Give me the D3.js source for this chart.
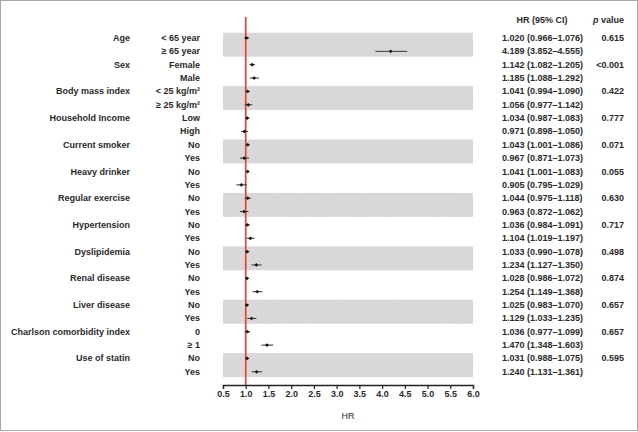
<!DOCTYPE html>
<html><head><meta charset="utf-8">
<script src="https://cdn.jsdelivr.net/npm/d3@7"></script>
<style>
html,body{margin:0;padding:0;background:#fff;}
svg{display:block;}
text{font-family:"Liberation Sans",Arial,sans-serif;font-weight:bold;fill:#2a2a2a;}
</style></head>
<body>
<svg id="c" width="638" height="432"></svg>
<script>
const groups = ["Age","Sex","Body mass index","Household Income","Current smoker","Heavy drinker","Regular exercise","Hypertension","Dyslipidemia","Renal disease","Liver disease","Charlson comorbidity index","Use of statin"];
const subgroups = ["< 65 year","≥ 65 year","Female","Male","< 25 kg/m²","≥ 25 kg/m²","Low","High","No","Yes","No","Yes","No","Yes","No","Yes","No","Yes","No","Yes","No","Yes","0","≥ 1","No","Yes"];
const hr = [1.020,4.189,1.142,1.185,1.041,1.056,1.034,0.971,1.043,0.967,1.041,0.905,1.044,0.963,1.036,1.104,1.033,1.234,1.028,1.254,1.025,1.129,1.036,1.470,1.031,1.240];
const lo = [0.966,3.852,1.082,1.088,0.994,0.977,0.987,0.898,1.001,0.871,1.001,0.795,0.975,0.872,0.984,1.019,0.990,1.127,0.986,1.149,0.983,1.033,0.977,1.348,0.988,1.131];
const hi = [1.076,4.555,1.205,1.292,1.090,1.142,1.083,1.050,1.086,1.073,1.083,1.029,1.118,1.062,1.091,1.197,1.078,1.350,1.072,1.368,1.070,1.235,1.099,1.603,1.075,1.361];
const pvalues = ["0.615","<0.001","0.422","0.777","0.071","0.055","0.630","0.717","0.498","0.874","0.657","0.657","0.595"];
const xTicks = [0.5,1.0,1.5,2.0,2.5,3.0,3.5,4.0,4.5,5.0,5.5,6.0];

const svg = d3.select("#c");
const x = d3.scaleLinear().domain([0.5,6.0]).range([223,473]);
const y = d3.scaleLinear().domain([0,25]).range([38,371.8]);

// border
svg.append("rect").attr("x",0.5).attr("y",0.5).attr("width",637).attr("height",430)
  .attr("fill","none").attr("stroke","#a8a8a8").attr("stroke-width",1);

// hatch pattern
const defs = svg.append("defs");
const pat = defs.append("pattern").attr("id","hatch").attr("patternUnits","userSpaceOnUse")
  .attr("width",3).attr("height",3).attr("patternTransform","rotate(45)");
pat.append("rect").attr("width",3).attr("height",3).attr("fill","#dadada");
pat.append("line").attr("x1",0).attr("y1",0).attr("x2",0).attr("y2",3).attr("stroke","#cecece").attr("stroke-width",1);

// bands for even groups
groups.forEach((g,i)=>{
  if(i%2===0){
    const y0 = y(2*i), y1 = y(2*i+1);
    svg.append("rect").attr("x",x(0.5)).attr("width",x(6.0)-x(0.5))
      .attr("y",(y0+y1)/2-12).attr("height",24).attr("fill","url(#hatch)");
  }
});

// reference line
svg.append("line").attr("x1",x(1)).attr("x2",x(1)).attr("y1",17).attr("y2",385)
  .attr("stroke","#ec3b2c").attr("stroke-width",1.6);

// CI lines and points
const rows = d3.range(hr.length);
svg.append("g").selectAll("line").data(rows).join("line")
  .attr("x1",i=>x(lo[i])).attr("x2",i=>x(hi[i])).attr("y1",i=>y(i)).attr("y2",i=>y(i))
  .attr("stroke","#333").attr("stroke-width",1);
svg.append("g").selectAll("path").data(rows).join("path")
  .attr("d",d3.symbol().type(d3.symbolSquare).size(7))
  .attr("transform",i=>`translate(${x(hr[i])},${y(i)}) rotate(45)`).attr("fill","#111");

// axis
const ax = svg.append("g").attr("transform","translate(0,385)")
  .call(d3.axisBottom(x).tickValues(xTicks).tickFormat(d3.format(".1f")).tickSize(4).tickSizeOuter(4));
ax.select(".domain").attr("stroke","#222").attr("stroke-width",1.4);
ax.selectAll(".tick line").attr("stroke","#222").attr("stroke-width",1.2);
ax.selectAll(".tick text").attr("font-size","9px").attr("font-family","'Liberation Sans',Arial,sans-serif")
  .attr("font-weight","bold").attr("fill","#2a2a2a").attr("dy","0.55em");
svg.append("text").attr("x",(x(0.5)+x(6))/2).attr("y",416).attr("text-anchor","middle")
  .attr("dominant-baseline","central").attr("font-size","9px")
  .style("font-weight","normal").style("fill","#2a2a2a").text("HR");

// group labels
svg.append("g").selectAll("text").data(groups).join("text")
  .attr("x",130).attr("y",(d,i)=>y(2*i)).attr("text-anchor","end").attr("dominant-baseline","central")
  .attr("font-size","9px").text(d=>d);
// subgroup labels
svg.append("g").selectAll("text").data(subgroups).join("text")
  .attr("x",200).attr("y",(d,i)=>y(i)).attr("text-anchor","end").attr("dominant-baseline","central")
  .attr("font-size","9px").text(d=>d);

// HR text
const f = d3.format(".3f");
svg.append("text").attr("x",542).attr("y",20).attr("text-anchor","middle").attr("dominant-baseline","central")
  .attr("font-size","9px").text("HR (95% CI)");
svg.append("g").selectAll("text").data(rows).join("text")
  .attr("x",502).attr("y",i=>y(i)).attr("dominant-baseline","central").attr("font-size","9px")
  .text(i=>`${f(hr[i])} (${f(lo[i])}–${f(hi[i])})`);

// p values
const ph = svg.append("text").attr("x",624).attr("y",20).attr("text-anchor","end").attr("dominant-baseline","central")
  .attr("font-size","9px");
ph.append("tspan").attr("font-style","italic").text("p");
ph.append("tspan").text(" value");
svg.append("g").selectAll("text").data(pvalues).join("text")
  .attr("x",624).attr("y",(d,i)=>y(2*i)).attr("text-anchor","end").attr("dominant-baseline","central")
  .attr("font-size","9px").text(d=>d);
</script>
</body></html>
